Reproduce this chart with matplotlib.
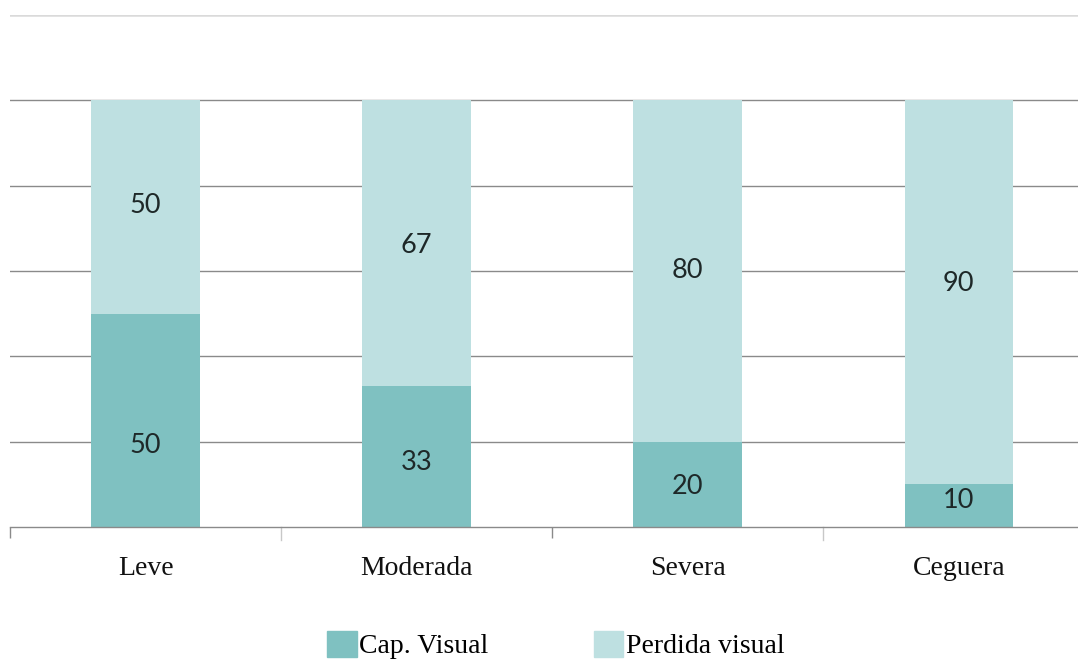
import matplotlib
matplotlib.use("Agg")
import matplotlib.pyplot as plt
from matplotlib.patches import Patch

# Data
categories = ["Leve", "Moderada", "Severa", "Ceguera"]
cap_visual = [50, 33, 20, 10]
perdida_visual = [50, 67, 80, 90]
series_names = ["Cap. Visual", "Perdida visual"]

# where the value labels sit in the original (not centred in the segments)
label_y_cap = [19, 15, 9.4, 6.1]
label_y_perdida = [75.4, 66, 60, 57]

dark = "#7fc1c1"
light = "#bee0e1"
grid_col = "#8a8a8a"

fig = plt.figure(figsize=(10.78, 6.6), dpi=100)
ax = fig.add_axes([10 / 1078, 133 / 660, 1068 / 1078, 512 / 660])

x = list(range(len(categories)))
ax.bar(x, cap_visual, width=0.4, color=dark, zorder=2)
ax.bar(x, perdida_visual, width=0.4, bottom=cap_visual, color=light, zorder=2)

for i in x:
    ax.text(i, label_y_cap[i], str(cap_visual[i]), ha="center", va="center",
            fontsize=19.5, family="Lato", color="#1e2828", zorder=3)
    ax.text(i, label_y_perdida[i], str(perdida_visual[i]), ha="center", va="center",
            fontsize=19.5, family="Lato", color="#1e2828", zorder=3)

# horizontal gridlines
for yv in [20, 40, 60, 80, 100]:
    ax.axhline(yv, color=grid_col, lw=1, zorder=1)
ax.axhline(120, color="#dadada", lw=1.8, zorder=1)

ax.set_ylim(0, 120)
ax.set_xlim(-0.5, 3.44)
ax.set_yticks([])

for s in ["top", "right", "left"]:
    ax.spines[s].set_visible(False)
ax.spines["bottom"].set_color(grid_col)
ax.spines["bottom"].set_linewidth(1)
ax.spines["bottom"].set_zorder(4)

ax.set_xticks(x)
ax.set_xticklabels(categories, family="Liberation Serif", fontsize=20, color="#111111")
ax.tick_params(axis="x", which="major", length=0, pad=21)
ax.set_xticks([-0.5, 1.5], minor=True)
ax.tick_params(axis="x", which="minor", length=8, color=grid_col, width=1)
# fainter ticks at the other category boundaries
for xb in [0.5, 2.5]:
    ax.plot([xb, xb], [0, -0.025], transform=ax.get_xaxis_transform(), color="#c8c8c8",
            lw=1, clip_on=False)

handles = [Patch(color=dark), Patch(color=light)]
fig.legend(handles, series_names, loc="center", bbox_to_anchor=(556 / 1078, 1 - 645 / 660),
           ncol=2, frameon=False, prop={"family": "Liberation Serif", "size": 20},
           handlelength=1.05, handleheight=1.05, handletextpad=0.1, columnspacing=3.8)

fig.savefig("out.png", dpi=100)
